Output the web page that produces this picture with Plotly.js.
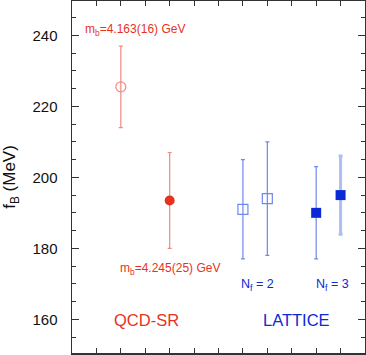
<!DOCTYPE html>
<html>
<head>
<meta charset="utf-8">
<script src="https://cdn.plot.ly/plotly-3.0.1.min.js"></script>
<style>
  html, body { margin: 0; padding: 0; background: #fff; }
  #chart { width: 366px; height: 355px; }
</style>
</head>
<body>
<div id="chart"></div>
<script>
// QCD sum rule points
const srX = [2, 4];
const srVal = [225.5, 193.5];
const srUp = [11.5, 13.5];
const srDown = [11.5, 13.5];

// Lattice, Nf = 2 (open squares) and Nf = 3 (filled squares)
const nf2X = [7, 8];
const nf2Val = [191, 194];
const nf2Up = [14, 16];
const nf2Down = [14, 16];
const nf3X = [10, 11];
const nf3Val = [190, 195];
const nf3Up = [13, 11];
const nf3Down = [13, 11];

const RED = "#e8321e";
const LIGHT_RED = "#f08a80";
const BLUE = "#0a2ad8";
const LIGHT_BLUE = "#6f88ee";
const FONT = "Liberation Sans, Arial, sans-serif";

function errBar(up, down, color, thick) {
  return { type: "data", symmetric: false, array: up, arrayminus: down,
    color: color, thickness: thick, width: 2 };
}

const traces = [
  {
    x: [srX[0]], y: [srVal[0]], type: "scatter", mode: "markers",
    marker: { symbol: "circle-open", size: 10, color: LIGHT_RED, line: { width: 1.2 } },
    error_y: errBar([srUp[0]], [srDown[0]], LIGHT_RED, 1.2),
  },
  {
    x: [srX[1]], y: [srVal[1]], type: "scatter", mode: "markers",
    marker: { symbol: "circle", size: 10, color: RED },
    error_y: errBar([srUp[1]], [srDown[1]], LIGHT_RED, 1.2),
  },
  {
    x: nf2X, y: nf2Val, type: "scatter", mode: "markers",
    marker: { symbol: "square-open", size: 10, color: LIGHT_BLUE, line: { width: 1.2 } },
    error_y: errBar(nf2Up, nf2Down, LIGHT_BLUE, 1.2),
  },
  {
    x: [nf3X[0]], y: [nf3Val[0]], type: "scatter", mode: "markers",
    marker: { symbol: "square", size: 10, color: BLUE },
    error_y: errBar([nf3Up[0]], [nf3Down[0]], LIGHT_BLUE, 1.2),
  },
  {
    x: [nf3X[1]], y: [nf3Val[1]], type: "scatter", mode: "markers",
    marker: { symbol: "square", size: 10, color: BLUE },
    error_y: errBar([nf3Up[1]], [nf3Down[1]], "#b0bdf3", 3),
  },
];

const axisLine = { showline: true, linecolor: "#333", linewidth: 1.5, mirror: "ticks",
  ticks: "inside", tickcolor: "#333", showgrid: false, zeroline: false };

const layout = {
  width: 366, height: 355,
  margin: { l: 72, r: 1, t: 1, b: 2 },
  paper_bgcolor: "#fff", plot_bgcolor: "#fff",
  showlegend: false,
  font: { family: FONT, color: "#111" },
  xaxis: { ...axisLine, range: [0, 12], dtick: 1, ticklen: 5, showticklabels: false },
  yaxis: {
    ...axisLine, range: [150.5, 249.7], dtick: 20, tick0: 160, ticklen: 7,
    tickfont: { size: 15, family: FONT }, ticklabelstandoff: 10,
    minor: { dtick: 5, ticks: "inside", ticklen: 4, tickcolor: "#333" },
    title: { text: "f<sub>B</sub> (MeV)", font: { size: 17, family: FONT }, standoff: 12 },
  },
  annotations: [
    { x: 0.45, y: 241.5, xref: "x", yref: "y", xanchor: "left", showarrow: false,
      text: "m<sub>b</sub>=4.163(16) GeV", font: { size: 12, color: RED, family: FONT } },
    { x: 1.9, y: 174.3, xref: "x", yref: "y", xanchor: "left", showarrow: false,
      text: "m<sub>b</sub>=4.245(25) GeV", font: { size: 12, color: RED, family: FONT } },
    { x: 7.6, y: 169.6, xref: "x", yref: "y", xanchor: "center", showarrow: false,
      text: "N<sub>f</sub> = 2", font: { size: 12.5, color: BLUE, family: FONT } },
    { x: 10.65, y: 169.6, xref: "x", yref: "y", xanchor: "center", showarrow: false,
      text: "N<sub>f</sub> = 3", font: { size: 12.5, color: BLUE, family: FONT } },
    { x: 3.07, y: 159.8, xref: "x", yref: "y", xanchor: "center", showarrow: false,
      text: "QCD-SR", font: { size: 16.5, color: RED, family: FONT } },
    { x: 9.2, y: 159.8, xref: "x", yref: "y", xanchor: "center", showarrow: false,
      text: "LATTICE", font: { size: 16.5, color: BLUE, family: FONT } },
  ],
};

Plotly.newPlot("chart", traces, layout, { displayModeBar: false, staticPlot: true });
</script>
</body>
</html>
